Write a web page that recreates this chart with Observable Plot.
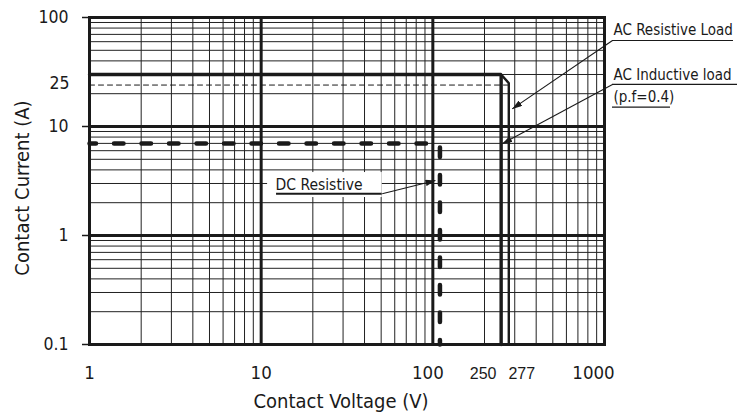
<!DOCTYPE html>
<html>
<head>
<meta charset="utf-8">
<script src="https://cdn.jsdelivr.net/npm/d3@7"></script>
<script src="https://cdn.jsdelivr.net/npm/@observablehq/plot@0.6"></script>
<style>
  html, body { margin: 0; padding: 0; background: #fff; }
  #chart { width: 740px; height: 418px; }
</style>
</head>
<body>
<div id="chart"></div>
<script>
// ---- Data ----
// Axis tick values
const xMajorTicks = [1, 10, 100, 1000];
const xSpecialTicks = [250, 277];
const yMajorTicks = [0.1, 1, 10, 100];
const ySpecialTicks = [25];
// Grid lines
const xMajorGrid = [10, 100];
const yMajorGrid = [1, 10];
const xMinorGrid = [2, 3, 4, 5, 6, 7, 8, 9, 20, 30, 40, 50, 60, 70, 80, 90, 200, 300, 400, 500, 600, 700, 800, 900];
const yMinorGrid = [0.2, 0.3, 0.4, 0.5, 0.6, 0.7, 0.8, 0.9, 2, 3, 4, 5, 6, 7, 8, 9, 20, 30, 40, 50, 60, 70, 80, 90];

// Load limit curves: voltage (V) and current (A)
const acOuterV = [1, 250, 250];
const acOuterA = [30, 30, 0.1];
const acInnerV = [250, 277, 277];
const acInnerA = [30, 25, 0.1];
const acDashV = [1, 277];
const acDashA = [24, 24];
const dcV = [1, 110, 110];
const dcA = [7, 7, 0.1];

const toPts = (vs, as) => vs.map((v, i) => ({v, a: as[i]}));

const NUM_FONT = "'DejaVu Sans Condensed', 'DejaVu Sans', sans-serif";
const TXT_FONT = "'DejaVu Sans Condensed', 'DejaVu Sans', sans-serif";
const SMALL_FONT = "'Liberation Sans', Arial, sans-serif";
const INK = "#1a1a1a";
const fmt = d => String(d);

const chart = Plot.plot({
  width: 740,
  height: 418,
  marginLeft: 89,
  marginRight: 136,
  marginTop: 17,
  marginBottom: 74,
  x: {type: "log", domain: [1, 1000], axis: null},
  y: {type: "log", domain: [0.1, 100], axis: null},
  style: {background: "#fff", color: INK, fontFamily: TXT_FONT},
  marks: [
    // minor grid
    Plot.ruleX(xMinorGrid, {stroke: "#222", strokeWidth: 1}),
    Plot.ruleY(yMinorGrid, {stroke: "#222", strokeWidth: 1}),
    // white box behind DC label
    Plot.rect([0], {x1: 10.9, x2: 50.7, y1: 2.23, y2: 3.78, fill: "#fff"}),
    // major grid + frame
    Plot.ruleX(xMajorGrid, {stroke: INK, strokeWidth: 3}),
    Plot.ruleY(yMajorGrid, {stroke: INK, strokeWidth: 3}),
    Plot.frame({stroke: INK, strokeWidth: 3}),
    // data curves
    Plot.line(toPts(acDashV, acDashA), {x: "v", y: "a", stroke: INK, strokeWidth: 1, strokeDasharray: "5,4"}),
    Plot.line(toPts(acInnerV, acInnerA), {x: "v", y: "a", stroke: INK, strokeWidth: 2.4, strokeLinejoin: "miter"}),
    Plot.line(toPts(acOuterV, acOuterA), {x: "v", y: "a", stroke: INK, strokeWidth: 3.4, strokeLinejoin: "miter"}),
    Plot.line(toPts(dcV, dcA), {x: "v", y: "a", stroke: INK, strokeWidth: 4.5, strokeDasharray: "9.5,18", strokeDashoffset: 3}),
    // annotations: underlines
    Plot.ruleY([61.5], {x1: 1113, x2: 5641, stroke: INK, strokeWidth: 1.2}),
    Plot.ruleY([24.3], {x1: 1113, x2: 5953, stroke: INK, strokeWidth: 1.2}),
    Plot.ruleY([15.03], {x1: 1113, x2: 2423, stroke: INK, strokeWidth: 1.2}),
    Plot.ruleY([2.413], {x1: 12.29, x2: 50.7, stroke: INK, strokeWidth: 2}),
    // annotations: leaders (arrowheads added below)
    Plot.link([
      {x1: 1113, y1: 61.5, x2: 290, y2: 14.5},
      {x1: 1113, y1: 24.3, x2: 253.6, y2: 6.94},
      {x1: 50.7, y1: 2.413, x2: 103.6, y2: 3.196}
    ], {x1: "x1", y1: "y1", x2: "x2", y2: "y2", stroke: INK, strokeWidth: 1.1}),
    // annotation texts
    Plot.text(["AC Resistive Load"], {x: 1128, y: 76, text: d => d, textAnchor: "start", fontSize: 15, fill: INK}),
    Plot.text(["AC Inductive load"], {x: 1128, y: 29.4, text: d => d, textAnchor: "start", fontSize: 15, fill: INK}),
    Plot.text(["(p.f=0.4)"], {x: 1128, y: 18.45, text: d => d, textAnchor: "start", fontSize: 15, fill: INK}),
    Plot.text(["DC Resistive"], {x: 12.12, y: 2.875, text: d => d, textAnchor: "start", fontSize: 15.5, fill: INK}),
    // axes
    Plot.axisY(yMajorTicks, {tickSize: 7, tickPadding: 14, fontSize: 17.5, fontFamily: NUM_FONT, tickFormat: fmt, label: null, strokeWidth: 1.5}),
    Plot.text(ySpecialTicks, {y: d => d, text: fmt, frameAnchor: "left", textAnchor: "end", lineAnchor: "middle", dx: -20, fontSize: 17.5, fontFamily: NUM_FONT, fill: INK}),
    Plot.axisX([xMajorTicks[0], xMajorTicks[1]], {tickSize: 0, tickPadding: 21, fontSize: 18.5, fontFamily: NUM_FONT, tickFormat: fmt, label: null}),
    Plot.axisX([xMajorTicks[2]], {tickSize: 0, tickPadding: 21, fontSize: 18.5, fontFamily: NUM_FONT, tickFormat: fmt, label: null, dx: -5}),
    Plot.axisX([xMajorTicks[3]], {tickSize: 0, tickPadding: 21, fontSize: 18.5, fontFamily: NUM_FONT, tickFormat: fmt, label: null, dx: -11}),
    Plot.text([xSpecialTicks[0]], {x: d => d, text: fmt, frameAnchor: "bottom", lineAnchor: "top", textAnchor: "middle", dy: 23.5, dx: -18, fontSize: 16, fontFamily: SMALL_FONT, fill: INK}),
    Plot.text([xSpecialTicks[1]], {x: d => d, text: fmt, frameAnchor: "bottom", lineAnchor: "top", textAnchor: "middle", dy: 23.5, dx: 13, fontSize: 16, fontFamily: SMALL_FONT, fill: INK}),
    // axis titles
    Plot.text(["Contact Voltage (V)"], {frameAnchor: "bottom", text: d => d, lineAnchor: "middle", textAnchor: "middle", dy: 57, dx: -6, fontSize: 20, fill: INK}),
    Plot.text(["Contact Current (A)"], {frameAnchor: "left", text: d => d, rotate: -90, textAnchor: "middle", lineAnchor: "middle", dx: -67, dy: 7, fontSize: 20, fill: INK})
  ]
});

// filled arrowheads on leader lines
const svg = d3.select(chart);
const defs = svg.insert("defs", ":first-child");
defs.append("marker")
  .attr("id", "ahead")
  .attr("viewBox", "0 0 10 10")
  .attr("refX", 10).attr("refY", 5)
  .attr("markerWidth", 10).attr("markerHeight", 6.5)
  .attr("markerUnits", "userSpaceOnUse")
  .attr("preserveAspectRatio", "none")
  .attr("orient", "auto")
  .append("path").attr("d", "M0,0L10,5L0,10Z").attr("fill", INK);
svg.selectAll('g[aria-label="link"] path').attr("marker-end", "url(#ahead)");

document.getElementById("chart").appendChild(chart);
</script>
</body>
</html>
